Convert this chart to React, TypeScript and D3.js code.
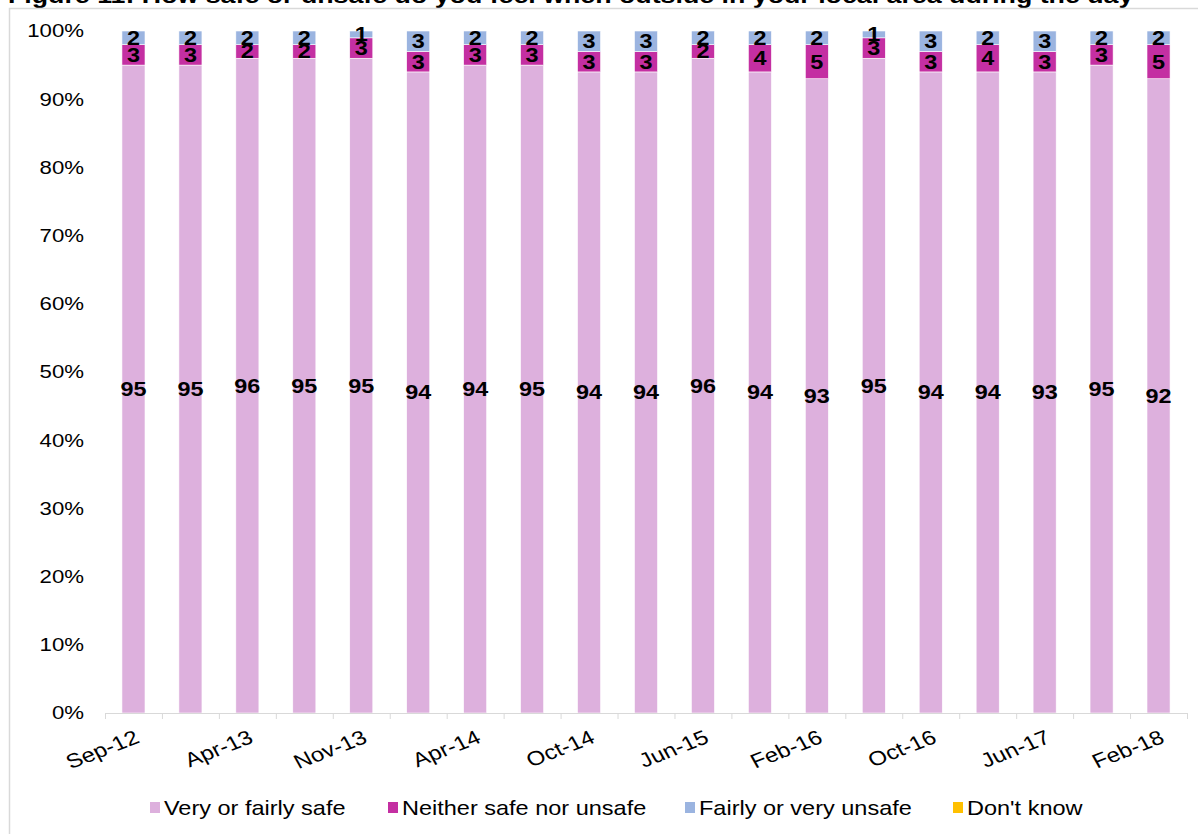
import React from "react";
import * as d3 from "d3";

const categories = [
  "Sep-12", "Dec-12", "Apr-13", "Jul-13", "Nov-13", "Jan-14", "Apr-14", "Jul-14",
  "Oct-14", "Jan-15", "Jun-15", "Oct-15", "Feb-16", "Jun-16", "Oct-16", "Feb-17",
  "Jun-17", "Oct-17", "Feb-18",
];

// segment heights as drawn
const verySafe = [95, 95, 96, 96, 96, 94, 95, 95, 94, 94, 96, 94, 93, 96, 94, 94, 94, 95, 93];
const neither = [3, 3, 2, 2, 3, 3, 3, 3, 3, 3, 2, 4, 5, 3, 3, 4, 3, 3, 5];
const unsafe = [2, 2, 2, 2, 1, 3, 2, 2, 3, 3, 2, 2, 2, 1, 3, 2, 3, 2, 2];
const dontKnow = [0, 0, 0, 0, 0, 0, 0, 0, 0, 0, 0, 0, 0, 0, 0, 0, 0, 0, 0];

// data labels as printed
const verySafeLabels = [95, 95, 96, 95, 95, 94, 94, 95, 94, 94, 96, 94, 93, 95, 94, 94, 93, 95, 92];
const neitherLabels = [3, 3, 2, 2, 3, 3, 3, 3, 3, 3, 2, 4, 5, 3, 3, 4, 3, 3, 5];
const unsafeLabels = [2, 2, 2, 2, 1, 3, 2, 2, 3, 3, 2, 2, 2, 1, 3, 2, 3, 2, 2];

const seriesNames = ["Very or fairly safe", "Neither safe nor unsafe", "Fairly or very unsafe", "Don't know"];
const seriesColors = ["#DDB0DD", "#C42FA2", "#9BB4E0", "#FFC000"];
const yTicks = [0, 10, 20, 30, 40, 50, 60, 70, 80, 90, 100];

const title = "Figure 11: How safe or unsafe do you feel when outside in your local area during the day";

const FONT = "'Liberation Sans', Arial, sans-serif";
const SX = 1.2; // horizontal stretch of the reference text

export default function App() {
  const x = d3.scaleBand<string>().domain(categories).range([105, 1187]).padding(0);
  const y = d3.scaleLinear().domain([0, 100]).range([713, 31]);
  const barW = x.bandwidth() * 0.405;

  const rows = categories.map((c, i) => ({
    cat: c,
    safe: verySafe[i],
    neither: neither[i],
    unsafe: unsafe[i],
    dk: dontKnow[i],
  }));
  const keys = ["safe", "neither", "unsafe", "dk"];
  const stacked = d3.stack<any>().keys(keys)(rows as any);
  const labelSets = [verySafeLabels, neitherLabels, unsafeLabels, null];

  const legendX = [150, 388, 685, 953];

  return (
    <div style={{ position: "absolute", left: 0, top: 0 }}>
      <svg width={1198} height={834} style={{ display: "block", background: "#fff" }} fontFamily={FONT}>
        <g transform={`translate(8,3) scale(${SX},1)`}>
          <text x={0} y={0} fontSize={22.3} fontWeight="bold" fill="#000">{title}</text>
        </g>
        <rect x={9.5} y={8.5} width={1300} height={1000} fill="none" stroke="#d9d9d9" strokeWidth={1.5} />

        {yTicks.map((t) => (
          <g key={t} transform={`translate(84,${y(t)}) scale(${SX},1)`}>
            <text x={0} y={0} dy="0.35em" textAnchor="end" fontSize={18.5} fill="#000">{t}%</text>
          </g>
        ))}

        {stacked.map((s, si) => (
          <g key={si} fill={seriesColors[si]}>
            {s.map((d, i) => {
              const h = y(d[0]) - y(d[1]);
              if (h <= 0) return null;
              return (
                <rect
                  key={i}
                  x={(x(categories[i]) as number) + (x.bandwidth() - barW) / 2}
                  y={y(d[1])}
                  width={barW}
                  height={h}
                  stroke="#fff"
                  strokeWidth={0.6}
                />
              );
            })}
          </g>
        ))}

        {stacked.map((s, si) => {
          const labs = labelSets[si];
          if (!labs) return null;
          return (
            <g key={"l" + si}>
              {s.map((d, i) => {
                const cx = (x(categories[i]) as number) + x.bandwidth() / 2;
                const cy = (y(d[0]) + y(d[1])) / 2;
                return (
                  <g key={i} transform={`translate(${cx},${cy}) scale(${SX},1)`}>
                    <text x={0} y={0} dy="0.36em" textAnchor="middle" fontSize={19.5} fontWeight="bold" fill="#000">
                      {labs[i]}
                    </text>
                  </g>
                );
              })}
            </g>
          );
        })}

        <line x1={105} x2={1187} y1={713.5} y2={713.5} stroke="#d9d9d9" strokeWidth={1} />
        {categories.map((c, i) => (
          <line key={c} x1={(x(c) as number) + 0.5} x2={(x(c) as number) + 0.5} y1={713} y2={719} stroke="#d9d9d9" />
        ))}
        <line x1={1187.5} x2={1187.5} y1={713} y2={719} stroke="#d9d9d9" />

        {categories.map((c, i) =>
          i % 2 === 0 ? (
            <g key={"x" + c} transform={`translate(${(x(c) as number) + x.bandwidth() / 2},729) scale(${SX},1) rotate(-25)`}>
              <text x={0} y={0} dy="0.72em" textAnchor="end" fontSize={20} fill="#000">{c}</text>
            </g>
          ) : null
        )}

        {seriesNames.map((n, i) => (
          <g key={n}>
            <rect x={legendX[i]} y={802} width={10} height={11} fill={seriesColors[i]} />
            <g transform={`translate(${legendX[i] + 14},808) scale(${SX},1)`}>
              <text x={0} y={0} dy="0.35em" fontSize={19.6} fill="#000">{n}</text>
            </g>
          </g>
        ))}
      </svg>
    </div>
  );
}
